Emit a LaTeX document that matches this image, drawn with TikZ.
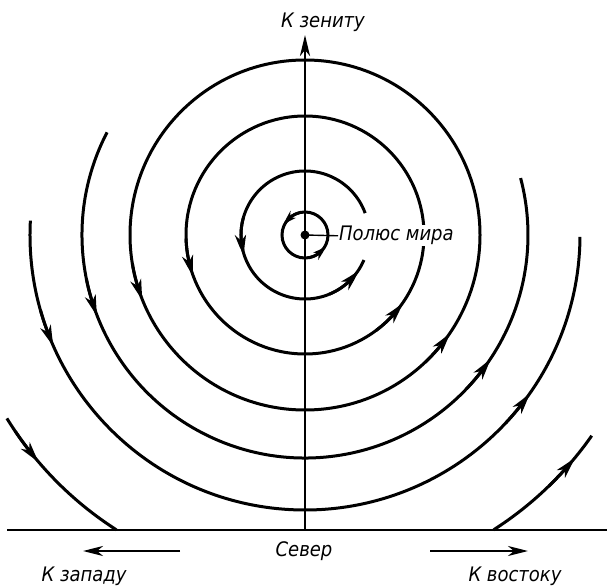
\documentclass[tikz,border=0pt]{standalone}
\usepackage{fontspec}
\setmainfont{DejaVu Sans Condensed}
\usetikzlibrary{arrows.meta,bending}
\begin{document}
\begin{tikzpicture}[x=1pt,y=1pt,
  curve/.style={line width=3pt},
  axisline/.style={line width=2.7pt},
  flow/.style={line width=3pt,-{Stealth[length=21pt,width=11pt,inset=6pt,bend]}},
  smallflow/.style={line width=2.8pt,-{Stealth[length=14pt,width=8.5pt,inset=4pt,bend]}},
  lab/.style={font=\fontsize{20}{20}\selectfont\itshape, inner sep=1pt}]
\useasboundingbox (0,0) rectangle (607,587);
\coordinate (C) at (305,352);
\coordinate (axtop) at (305,552);
\coordinate (axbot) at (305,57);
\coordinate (hl) at (7,57);
\coordinate (hr) at (607,57);
% circles and arcs
\draw[curve] (C) circle[radius=23];
\draw[curve] ([shift={(20:64)}]C) arc[start angle=20, end angle=337, radius=64];
\draw[curve] (C) circle[radius=119];
\draw[curve] (C) circle[radius=175];
\draw[curve] ([shift={(152.6:223)}]C) arc[start angle=152.6, end angle=374.8, radius=223];
\draw[curve] ([shift={(177:275)}]C) arc[start angle=177, end angle=359.6, radius=275];
\draw[curve] ([shift={(211.6:350)}]C) arc[start angle=211.6, end angle=237.4, radius=350];
\draw[curve] ([shift={(302.6:350)}]C) arc[start angle=302.6, end angle=325, radius=350];
% arrowheads on the arcs
\foreach \r/\a in {64/191, 64/319, 119/196, 119/321, 175/199, 175/323, 223/199, 223/324, 275/202, 275/323, 350/219, 350/319}{
  \draw[flow] ([shift={({\a-1700/\r}:\r)}]C) arc[start angle={\a-1700/\r}, end angle={\a+500/\r}, radius=\r];
}
\foreach \a in {143, 320}{
  \draw[smallflow] ([shift={({\a-40}:23)}]C) arc[start angle={\a-40}, end angle={\a+12}, radius=23];
}
% axes
\draw[axisline] (hl) -- (hr);
\draw[axisline,-{Stealth[length=21pt,width=10pt,inset=6pt]}] (axbot) -- (axtop);
% pole
\node[circle,fill,inner sep=0pt,minimum size=9pt] (pole) at (C) {};
\node[lab,fill=white,anchor=base west] (polelab) at (338,346) {Полюс мира};
\draw[line width=1.4pt] (pole.center) -- (polelab.west);
% labels
\node[lab] (zenith) at (323,565) {К зениту};
\node[lab] (north) at (304,36) {Север};
\node[lab] (west) at (84,11) {К западу};
\node[lab] (east) at (515,11) {К востоку};
\coordinate (wa) at (180,36);
\coordinate (wb) at (83,36);
\coordinate (ea) at (430,36);
\coordinate (eb) at (528,36);
\draw[line width=2.4pt,-{Stealth[length=20pt,width=10pt,inset=6pt]}] (wa) -- (wb);
\draw[line width=2.4pt,-{Stealth[length=20pt,width=10pt,inset=6pt]}] (ea) -- (eb);
\end{tikzpicture}
\end{document}
